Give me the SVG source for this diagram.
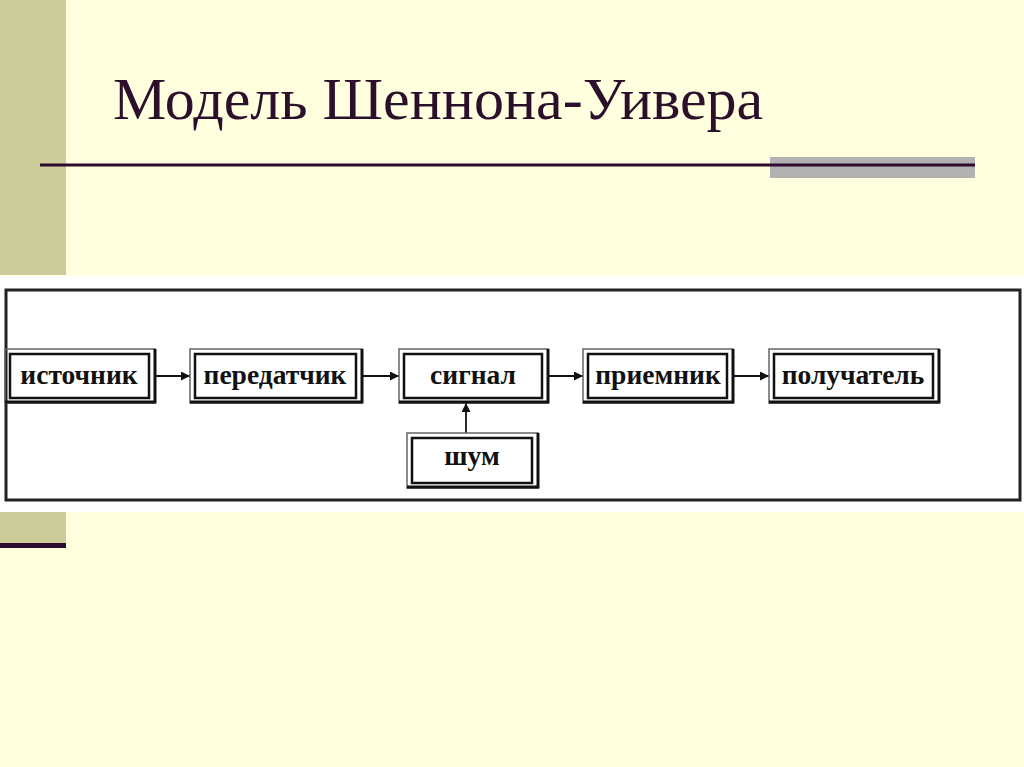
<svg xmlns="http://www.w3.org/2000/svg" width="1024" height="767" viewBox="0 0 1024 767">
<style>
.t{font-family:"Liberation Serif","Times New Roman",serif;font-weight:bold;font-size:27.5px;fill:#111;text-anchor:middle}
.ob{fill:none;stroke:#666;stroke-width:1.5}
.ib{fill:#fff;stroke:#111;stroke-width:2.5}
.sh{fill:none;stroke:#111;stroke-width:3}
.c{stroke:#111;stroke-width:1.8;fill:none}
</style>
<defs>
<marker id="ah" viewBox="0 0 10 10" refX="10" refY="5" markerWidth="5" markerHeight="5" orient="auto" markerUnits="strokeWidth">
<path d="M0,0 L10,5 L0,10 z" fill="#111"/>
</marker>
</defs>
<rect x="0" y="0" width="1024" height="767" fill="#FFFFDF"/>
<rect x="0" y="0" width="66" height="275" fill="#CCCB99"/>
<rect x="0" y="512" width="66" height="31" fill="#CCCB99"/>
<rect x="0" y="543" width="66" height="5" fill="#2E0A2E"/>
<text x="113" y="119" font-family="Liberation Serif, Times New Roman, serif" font-size="60" fill="#2B0F2B">Модель Шеннона-Уивера</text>
<rect x="770" y="157" width="205" height="21" fill="#B2B2B2"/>
<rect x="40" y="163.5" width="935" height="3" fill="#2E0A2E"/>
<rect x="0" y="276" width="1024" height="236" fill="#FFFFFF"/>
<rect x="6" y="290" width="1014" height="210" fill="#fff" stroke="#222" stroke-width="3"/>
<g id="connectors">
<line class="c" x1="155" y1="376" x2="190" y2="376" marker-end="url(#ah)"/>
<line class="c" x1="362" y1="376" x2="399" y2="376" marker-end="url(#ah)"/>
<line class="c" x1="548" y1="376" x2="583" y2="376" marker-end="url(#ah)"/>
<line class="c" x1="733" y1="376" x2="769" y2="376" marker-end="url(#ah)"/>
<line class="c" x1="466" y1="433" x2="466" y2="403" marker-end="url(#ah)"/>
</g>
<g id="n1">
<rect class="ob" x="5" y="349" width="150" height="54"/>
<rect class="ib" x="10" y="354" width="139" height="44"/>
<polyline class="sh" points="5,402 155,402 155,349"/>
<text class="t" x="79" y="384">источник</text>
</g>
<g id="n2">
<rect class="ob" x="190" y="349" width="172" height="54"/>
<rect class="ib" x="195" y="354" width="161" height="44"/>
<polyline class="sh" points="190,402 362,402 362,349"/>
<text class="t" x="275" y="384">передатчик</text>
</g>
<g id="n3">
<rect class="ob" x="399" y="349" width="149" height="54"/>
<rect class="ib" x="404" y="354" width="138" height="44"/>
<polyline class="sh" points="399,402 548,402 548,349"/>
<text class="t" x="473" y="384">сигнал</text>
</g>
<g id="n4">
<rect class="ob" x="583" y="349" width="150" height="54"/>
<rect class="ib" x="588" y="354" width="139" height="44"/>
<polyline class="sh" points="583,402 733,402 733,349"/>
<text class="t" x="658" y="384">приемник</text>
</g>
<g id="n5">
<rect class="ob" x="769" y="349" width="170" height="54"/>
<rect class="ib" x="774" y="354" width="159" height="44"/>
<polyline class="sh" points="769,402 939,402 939,349"/>
<text class="t" x="853" y="384">получатель</text>
</g>
<g id="n6">
<rect class="ob" x="407" y="433" width="131" height="55"/>
<rect class="ib" x="412" y="438" width="120" height="45"/>
<polyline class="sh" points="407,487 538,487 538,433"/>
<text class="t" x="472" y="465">шум</text>
</g>
</svg>
